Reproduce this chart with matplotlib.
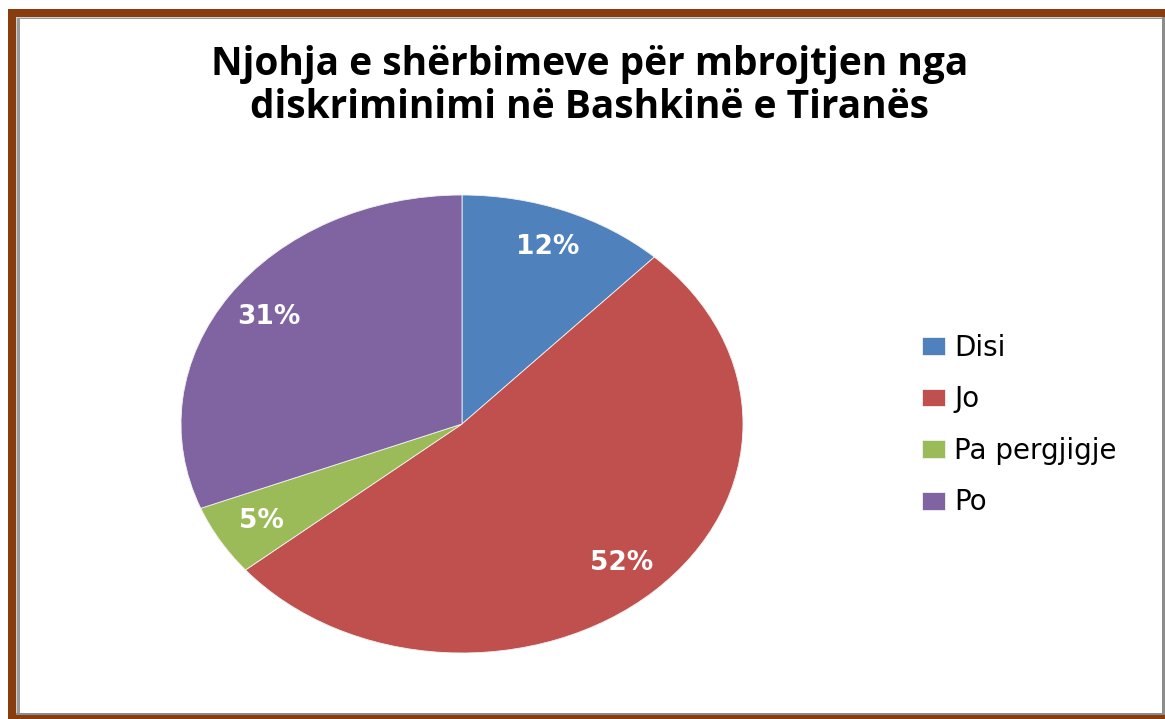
#!/usr/bin/env python3
"""
Pie chart: Njohja e sherbimeve per mbrojtjen nga diskriminimi.
"""

import matplotlib
matplotlib.use("Agg")
import matplotlib.pyplot as plt
from matplotlib.patches import Rectangle

W, H = 1165, 719

labels = ["Disi", "Jo", "Pa pergjigje", "Po"]
values = [12, 52, 5, 31]
colors = ["#4F81BD", "#C0504D", "#9BBB59", "#8064A2"]

title = "Njohja e shërbimeve për mbrojtjen nga\ndiskriminimi në Bashkinë e Tiranës"


def px_rect(x0, y0, x1, y1, color):
    # pixel box measured from top-left -> figure fraction rectangle
    return Rectangle((x0 / W, 1 - y1 / H), (x1 - x0) / W, (y1 - y0) / H,
                     transform=fig.transFigure, facecolor=color,
                     edgecolor="none", zorder=0)


fig = plt.figure(figsize=(W / 100, H / 100), dpi=100)
fig.patch.set_facecolor("white")

# frame: brown border with a grey shadow line
fig.add_artist(px_rect(8, 9, W, H, "#873D0E"))
fig.add_artist(px_rect(16, 17, 1165, 715, "#8C8C8C"))
fig.add_artist(px_rect(16, 17, 1162, 713, "#D0D0D0"))
fig.add_artist(px_rect(17, 18, 1162, 713, "#9A9A9A"))
fig.add_artist(px_rect(20, 19, 1162, 713, "white"))

ax = fig.add_axes([181 / W, 66 / H, 562 / W, 458 / H])
wedges, _, autotexts = ax.pie(
    values,
    colors=colors,
    startangle=90,
    counterclock=False,
    radius=1.0,
    autopct="%1.0f%%",
    pctdistance=0.83,
    wedgeprops=dict(edgecolor="#F2F2F2", linewidth=0.6),
    textprops=dict(color="white", fontsize=19, fontweight="bold",
                   family="DejaVu Sans"),
)
ax.set_aspect("auto")
ax.set_xlim(-1, 1)
ax.set_ylim(-1, 1)

fig.text(590 / W, 1 - 86 / H, title, ha="center", va="center",
         fontsize=28, fontweight="bold", family="Open Sans",
         linespacing=1.15)

fig.legend(
    wedges, labels,
    loc="center left",
    bbox_to_anchor=(922 / W, 1 - 425 / H),
    frameon=False,
    prop=dict(family="DejaVu Sans", size=20),
    handlelength=0.83,
    handleheight=0.61,
    handletextpad=0.32,
    labelspacing=0.85,
    borderpad=0,
    borderaxespad=0,
)

fig.savefig("out.png", dpi=100)
